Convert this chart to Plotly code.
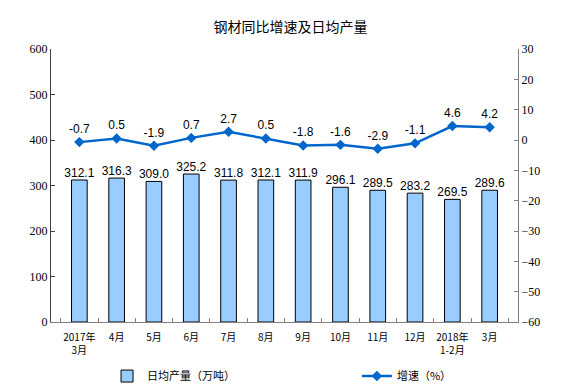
import plotly.graph_objects as go

categories = ["2017年<br>3月", "4月", "5月", "6月", "7月", "8月", "9月", "10月", "11月", "12月", "2018年<br>1-2月", "3月"]
output = [312.1, 316.3, 309.0, 325.2, 311.8, 312.1, 311.9, 296.1, 289.5, 283.2, 269.5, 289.6]
growth = [-0.7, 0.5, -1.9, 0.7, 2.7, 0.5, -1.8, -1.6, -2.9, -1.1, 4.6, 4.2]
left_ticks = [0, 100, 200, 300, 400, 500, 600]
right_ticks = [-60, -50, -40, -30, -20, -10, 0, 10, 20, 30]

label_font = dict(family="Liberation Sans, Arial", size=12, color="black")

fig = go.Figure()
fig.add_trace(go.Bar(
    x=categories, y=output, name="日均产量（万吨）",
    marker=dict(color="#99CCFF", line=dict(color="black", width=1)),
    width=0.42, legend="legend",
))
fig.add_trace(go.Scatter(
    x=categories, y=output, mode="text",
    text=[f"{v:.1f}" for v in output], textposition="top center",
    textfont=label_font, cliponaxis=False, showlegend=False, hoverinfo="skip",
))
fig.add_trace(go.Scatter(
    x=categories, y=growth, name="增速（%）", yaxis="y2",
    mode="lines+markers+text",
    line=dict(color="#0066CC", width=2.5),
    marker=dict(symbol="diamond", size=8, color="#0066CC"),
    text=[f"{v:.1f}" for v in growth], textposition="top center",
    textfont=label_font, cliponaxis=False, legend="legend2",
))

fig.update_layout(
    width=581, height=386,
    margin=dict(l=51, r=63, t=49, b=64, autoexpand=False),
    paper_bgcolor="white", plot_bgcolor="white",
    title=dict(text="钢材同比增速及日均产量", x=0.5, xanchor="center", y=0.93, yanchor="middle",
               font=dict(family="Noto Sans CJK SC", size=14, color="black")),
    xaxis=dict(showgrid=False, showline=True, linecolor="#808080", linewidth=1,
               ticks="inside", tickcolor="#808080", ticklen=4, tickson="boundaries",
               tickangle=0, automargin=False, ticklabelstandoff=6,
               tickfont=dict(family="Noto Sans CJK SC", size=10, color="black")),
    yaxis=dict(range=[0, 600], tickvals=left_ticks, showgrid=False, showline=True,
               linecolor="#404040", linewidth=1, ticks="inside", tickcolor="#404040", ticklen=4,
               automargin=False,
               tickfont=dict(family="Liberation Serif, Times New Roman", size=12, color="black"),
               zeroline=False),
    yaxis2=dict(range=[-60, 30], tickvals=right_ticks, overlaying="y", side="right",
                showgrid=False, showline=True, linecolor="#808080", linewidth=1,
                ticks="inside", tickcolor="#808080", ticklen=4, zeroline=False, automargin=False,
                tickfont=dict(family="Liberation Serif, Times New Roman", size=12, color="black")),
    legend=dict(orientation="h", x=0.12, y=-0.198, xanchor="left", yanchor="middle",
                font=dict(family="Noto Sans CJK SC", size=11, color="black"), bgcolor="rgba(0,0,0,0)"),
    legend2=dict(orientation="h", x=0.655, y=-0.198, xanchor="left", yanchor="middle",
                 font=dict(family="Noto Sans CJK SC", size=11, color="black"), bgcolor="rgba(0,0,0,0)"),
    showlegend=True,
)

fig.write_html("out.html", config={"displayModeBar": False},
               post_script="document.body.style.margin='0';document.body.style.overflow='hidden';")
